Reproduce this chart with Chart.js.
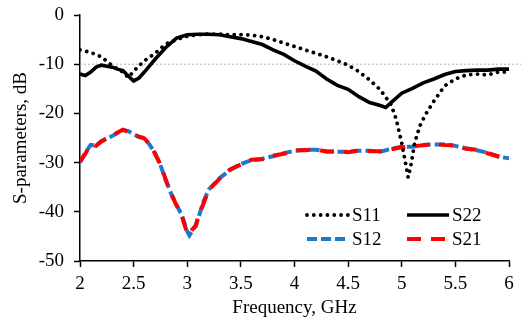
<!DOCTYPE html>
<html>
<head>
<meta charset="utf-8">
<script src="https://cdn.jsdelivr.net/npm/chart.js@4/dist/chart.umd.min.js"></script>
<style>
  html, body { margin: 0; padding: 0; background: #fff; }
  #wrap { width: 521px; height: 322px; }
</style>
</head>
<body>
<div id="wrap"><canvas id="sparams"></canvas></div>
<script>
// frequency grid, GHz
const s11Freq = [2.0, 2.1, 2.2, 2.3, 2.4, 2.45, 2.5, 2.6, 2.7, 2.8, 2.9, 3.0, 3.1, 3.2, 3.3, 3.4, 3.5, 3.6, 3.7, 3.8, 3.9, 4.0, 4.1, 4.2, 4.3, 4.4, 4.5, 4.6, 4.7, 4.8, 4.9, 4.95, 5.0, 5.03, 5.06, 5.09, 5.12, 5.17, 5.22, 5.3, 5.4, 5.5, 5.6, 5.7, 5.8, 5.9, 6.0];
const s11 = [-7.1, -7.6, -8.5, -10.3, -11.6, -12.7, -11.4, -9.3, -7.8, -5.9, -5.0, -4.3, -4.0, -3.9, -3.9, -4.0, -4.0, -4.1, -4.4, -5.0, -5.7, -6.4, -7.1, -7.8, -8.5, -9.3, -10.2, -11.5, -13.2, -15.2, -18.2, -21.3, -26.0, -29.5, -33.0, -30.0, -26.0, -22.5, -20.3, -17.5, -14.4, -13.0, -12.2, -12.0, -12.2, -11.6, -11.6];

const s22Freq = [2.0, 2.05, 2.1, 2.15, 2.2, 2.3, 2.35, 2.4, 2.45, 2.5, 2.55, 2.6, 2.7, 2.8, 2.9, 3.0, 3.1, 3.2, 3.3, 3.4, 3.5, 3.6, 3.7, 3.8, 3.9, 4.0, 4.1, 4.2, 4.3, 4.4, 4.5, 4.6, 4.7, 4.8, 4.85, 4.9, 5.0, 5.1, 5.2, 5.3, 5.4, 5.5, 5.6, 5.7, 5.8, 5.9, 6.0];
const s22 = [-12.0, -12.3, -11.6, -10.6, -10.2, -10.6, -11.0, -11.3, -12.4, -13.4, -12.8, -11.6, -9.0, -6.6, -4.7, -4.0, -3.9, -3.9, -4.0, -4.4, -4.8, -5.4, -6.0, -7.1, -8.0, -9.3, -10.4, -11.4, -13.0, -14.3, -15.1, -16.6, -17.8, -18.4, -18.8, -17.8, -15.9, -14.9, -13.8, -13.0, -12.1, -11.5, -11.3, -11.2, -11.2, -11.0, -11.0];

const transFreq = [2.0, 2.05, 2.1, 2.15, 2.2, 2.3, 2.4, 2.45, 2.5, 2.55, 2.6, 2.65, 2.7, 2.75, 2.8, 2.85, 2.9, 2.95, 3.0, 3.02, 3.05, 3.08, 3.1, 3.15, 3.2, 3.3, 3.4, 3.5, 3.6, 3.7, 3.8, 3.9, 4.0, 4.1, 4.2, 4.3, 4.4, 4.5, 4.6, 4.7, 4.8, 4.9, 5.0, 5.1, 5.2, 5.3, 5.4, 5.5, 5.6, 5.7, 5.8, 5.9, 6.0];
const s12 = [-30.0, -28.0, -26.4, -26.5, -25.6, -24.6, -23.4, -23.6, -24.2, -24.8, -25.0, -26.4, -28.1, -30.5, -33.6, -36.3, -38.6, -40.7, -44.0, -44.8, -43.8, -42.6, -41.5, -38.0, -35.5, -33.2, -31.5, -30.3, -29.5, -29.2, -28.7, -28.1, -27.6, -27.4, -27.4, -27.7, -27.8, -27.8, -27.6, -27.6, -27.8, -27.2, -26.8, -26.8, -26.4, -26.3, -26.3, -26.6, -27.1, -27.5, -28.0, -28.8, -29.1];
const s21 = [-29.8, -28.2, -26.3, -26.6, -25.7, -24.5, -23.3, -23.7, -24.3, -24.7, -25.1, -26.3, -28.2, -30.4, -33.5, -36.4, -38.7, -40.9, -44.4, -44.6, -43.5, -42.9, -41.2, -38.4, -35.6, -33.3, -31.4, -30.4, -29.4, -29.3, -28.6, -28.2, -27.5, -27.5, -27.3, -27.8, -27.7, -27.9, -27.5, -27.7, -27.7, -27.3, -26.9, -26.7, -26.5, -26.2, -26.4, -26.5, -27.2, -27.4, -28.1, -28.7, -29.2];

// -10 dB reference level
const refFreq = [2.0, 6.2];
const refLevel = [-10, -10];

const xTicks = [2, 2.5, 3, 3.5, 4, 4.5, 5, 5.5, 6];
const xTickLabels = ['2', '2.5', '3', '3.5', '4', '4.5', '5', '5.5', '6'];
const yTicks = [0, -10, -20, -30, -40, -50];
const yTickLabels = ['0', '-10', '-20', '-30', '-40', '-50'];
const legendRows = [['S11', 'S22'], ['S12', 'S21']];

const pts = (xs, ys) => xs.map((x, i) => ({ x: x, y: ys[i] }));
const serif = '"Liberation Serif", "Times New Roman", serif';

// legend drawn inside the plot, bottom right
const insideLegend = {
  id: 'insideLegend',
  afterDraw(chart) {
    const { ctx, chartArea } = chart;
    ctx.save();
    ctx.font = '19px ' + serif;
    ctx.textBaseline = 'middle';
    ctx.fillStyle = '#000';
    legendRows.forEach((row, r) => {
      row.forEach((name, c) => {
        const ds = chart.data.datasets.find(d => d.label === name);
        const x = chartArea.right - 202 + c * 100;
        const y = chartArea.bottom - 46 + r * 24;
        ctx.beginPath();
        ctx.strokeStyle = ds.borderColor;
        ctx.lineWidth = ds.borderWidth;
        ctx.lineCap = ds.borderCapStyle || 'butt';
        ctx.setLineDash(ds.borderDash || []);
        ctx.moveTo(x, y);
        ctx.lineTo(x + 42, y);
        ctx.stroke();
        ctx.setLineDash([]);
        ctx.fillText(name, x + 45, y + 1);
      });
    });
    ctx.restore();
  }
};

new Chart(document.getElementById('sparams'), {
  type: 'line',
  data: {
    datasets: [
      {
        label: 'S11',
        data: pts(s11Freq, s11),
        borderColor: '#000',
        borderWidth: 3.8,
        borderDash: [0.01, 6.8],
        borderCapStyle: 'round',
        order: 1
      },
      {
        label: 'S22',
        data: pts(s22Freq, s22),
        borderColor: '#000',
        borderWidth: 3.6,
        order: 2
      },
      {
        label: 'S12',
        data: pts(transFreq, s12),
        borderColor: '#1f78c8',
        borderWidth: 4,
        borderDash: [10, 4],
        order: 4
      },
      {
        label: 'S21',
        data: pts(transFreq, s21),
        borderColor: '#ff0000',
        borderWidth: 4,
        borderDash: [14, 10],
        order: 3
      },
      {
        label: 'ref',
        data: pts(refFreq, refLevel),
        borderColor: '#b0b0b0',
        borderWidth: 1,
        borderDash: [2, 2],
        clip: false,
        order: 9
      }
    ]
  },
  options: {
    responsive: true,
    maintainAspectRatio: false,
    animation: false,
    layout: { padding: { left: 0, right: 12, top: 15, bottom: 0 } },
    elements: { point: { radius: 0 }, line: { tension: 0 } },
    plugins: { legend: { display: false }, tooltip: { enabled: false } },
    scales: {
      x: {
        type: 'linear',
        min: 2,
        max: 6,
        afterBuildTicks: s => { s.ticks = xTicks.map(v => ({ value: v })); },
        afterFit: s => { s.height = 61; s.paddingLeft = 0; s.paddingRight = 0; },
        ticks: {
          color: '#000', font: { family: serif, size: 19 }, padding: 6, maxRotation: 0,
          callback: v => xTickLabels[xTicks.indexOf(v)]
        },
        grid: { drawOnChartArea: false, drawTicks: true, tickLength: 6, tickColor: '#000', tickWidth: 1.5 },
        border: { display: true, color: '#000', width: 1.5 },
        title: { display: true, text: 'Frequency, GHz', color: '#000', font: { family: serif, size: 19 }, padding: { top: 0, bottom: 3 } }
      },
      y: {
        min: -50,
        max: 0,
        afterBuildTicks: s => { s.ticks = yTicks.map(v => ({ value: v })); },
        afterFit: s => { s.width = 80; s.paddingTop = 0; s.paddingBottom = 0; },
        ticks: {
          color: '#000', font: { family: serif, size: 19 }, padding: 10,
          callback: v => yTickLabels[yTicks.indexOf(v)]
        },
        grid: { drawOnChartArea: false, drawTicks: true, tickLength: 6, tickColor: '#000', tickWidth: 1.5 },
        border: { display: true, color: '#000', width: 1.5 },
        title: { display: true, text: 'S-parameters, dB', color: '#000', font: { family: serif, size: 19 }, padding: { top: 10, bottom: 0 } }
      }
    }
  },
  plugins: [insideLegend]
});
</script>
</body>
</html>
